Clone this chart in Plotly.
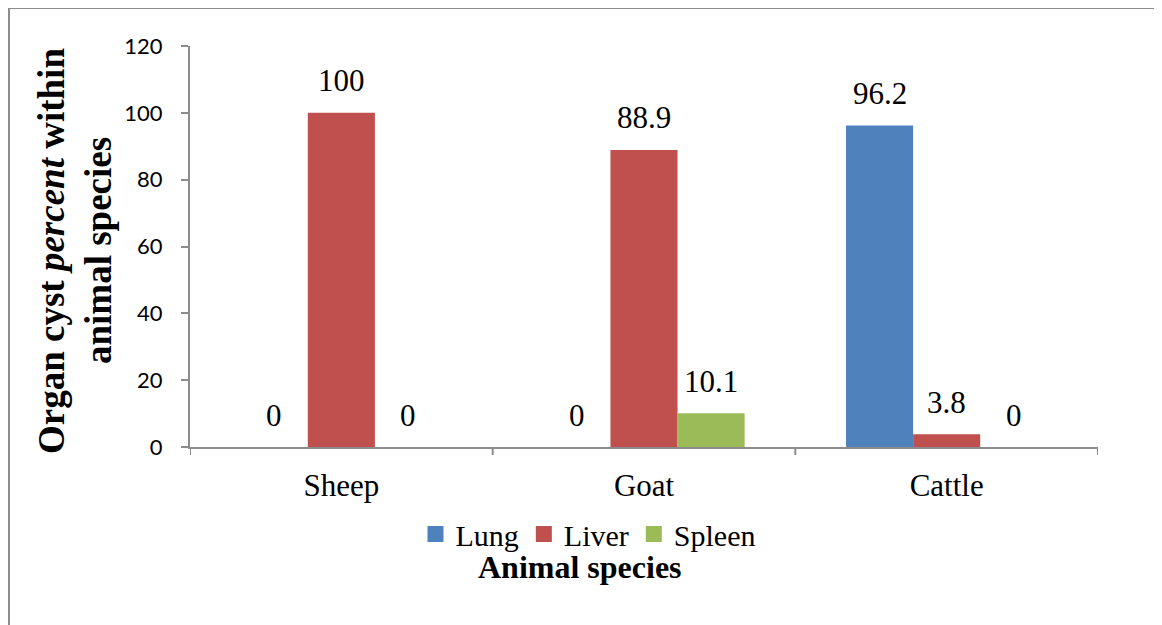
import plotly.graph_objects as go

categories = ["Sheep", "Goat", "Cattle"]
series_names = ["Lung", "Liver", "Spleen"]
lung = [0, 0, 96.2]
liver = [100, 88.9, 3.8]
spleen = [0, 10.1, 0]
label_text = {
    "Lung": ["0", "0", "96.2"],
    "Liver": ["100", "88.9", "3.8"],
    "Spleen": ["0", "10.1", "0"],
}
y_ticks = [0, 20, 40, 60, 80, 100, 120]

colors = {"Lung": "#4F81BD", "Liver": "#C0504D", "Spleen": "#9BBB59"}
values = {"Lung": lung, "Liver": liver, "Spleen": spleen}

SERIF = "Liberation Serif"
SANS = "Lato"

OFF = 8  # page body margin
W, H = 1162 - OFF, 625 - OFF
# plot area in page pixels: x 190..1098, y 46..447
L = 190 - OFF
T = 46 - OFF
R = W - (1098 - OFF)
B = H - (447 - OFF)
pw = W - L - R
ph = H - T - B

bargap = 0.335
bw = (1 - bargap) / 3

fig = go.Figure()
for name in series_names:
    fig.add_trace(go.Bar(
        x=list(range(len(categories))), y=values[name], name=name,
        marker=dict(color=colors[name], line=dict(width=0)),
        showlegend=False, legendgroup=name,
    ))
# legend entries with larger square swatches
for name in series_names:
    fig.add_trace(go.Scatter(
        x=[None], y=[None], mode="markers", name=name, legendgroup=name,
        marker=dict(symbol="square", size=16, color=colors[name]),
        showlegend=True,
    ))

annotations = []
for j, name in enumerate(series_names):
    for i, v in enumerate(values[name]):
        annotations.append(dict(
            x=i + (j - 1) * bw, y=v, xref="x", yref="y",
            text=label_text[name][i], showarrow=False,
            yanchor="middle", yshift=32,
            font=dict(family=SERIF, size=31, color="black"),
        ))

def px_x(p):
    return (p - OFF - L) / pw

def px_y(p):
    return (H - B - (p - OFF)) / ph

annotations.append(dict(
    x=px_x(580), y=px_y(567), xref="paper", yref="paper",
    text="<b>Animal species</b>", showarrow=False,
    xanchor="center", yanchor="middle",
    font=dict(family=SERIF, size=32, color="black"),
))
annotations.append(dict(
    x=px_x(51), y=px_y(251), xref="paper", yref="paper",
    text="<b>Organ cyst <i>percent</i> within</b>",
    showarrow=False, textangle=-90,
    xanchor="center", yanchor="middle",
    font=dict(family=SERIF, size=37, color="black"),
))
annotations.append(dict(
    x=px_x(98), y=px_y(251), xref="paper", yref="paper",
    text="<b>animal species</b>",
    showarrow=False, textangle=-90,
    xanchor="center", yanchor="middle",
    font=dict(family=SERIF, size=37, color="black"),
))

shapes = [
    dict(type="line", xref="paper", yref="paper",
         x0=px_x(9), x1=px_x(9), y0=px_y(7), y1=px_y(700),
         line=dict(color="#8C8C8C", width=2)),
    dict(type="line", xref="paper", yref="paper",
         x0=px_x(8), x1=px_x(1300), y0=px_y(8), y1=px_y(8),
         line=dict(color="#8C8C8C", width=2)),
]
for k in range(len(categories) + 1):
    shapes.append(dict(type="line", xref="x", yref="paper",
                       x0=k - 0.5, x1=k - 0.5, y0=0, y1=px_y(455),
                       line=dict(color="#8C8C8C", width=2)))

fig.update_layout(
    width=W, height=H,
    margin=dict(l=L, r=R, t=T, b=B, pad=0),
    paper_bgcolor="white", plot_bgcolor="white",
    barmode="group", bargap=bargap, bargroupgap=0,
    showlegend=True,
    legend=dict(
        orientation="h", x=px_x(588), y=px_y(534),
        xanchor="center", yanchor="middle",
        font=dict(family=SERIF, size=30, color="black"),
        itemwidth=30, tracegroupgap=0, itemsizing="trace",
    ),
    annotations=annotations,
    shapes=shapes,
    xaxis=dict(
        tickmode="array", tickvals=list(range(len(categories))), ticktext=categories,
        range=[-0.5, 2.5],
        showline=True, linecolor="#8C8C8C", linewidth=2,
        ticks="", showgrid=False, zeroline=False,
        tickfont=dict(family=SERIF, size=31, color="black"),
        ticklabelstandoff=10,
    ),
    yaxis=dict(
        range=[0, 120], tickvals=y_ticks,
        showline=True, linecolor="#8C8C8C", linewidth=2,
        ticks="outside", ticklen=7, tickwidth=2, tickcolor="#8C8C8C",
        showgrid=False, zeroline=False,
        tickfont=dict(family=SANS, size=22, color="black"),
        ticklabelstandoff=14,
    ),
)

fig.write_html("out.html")
